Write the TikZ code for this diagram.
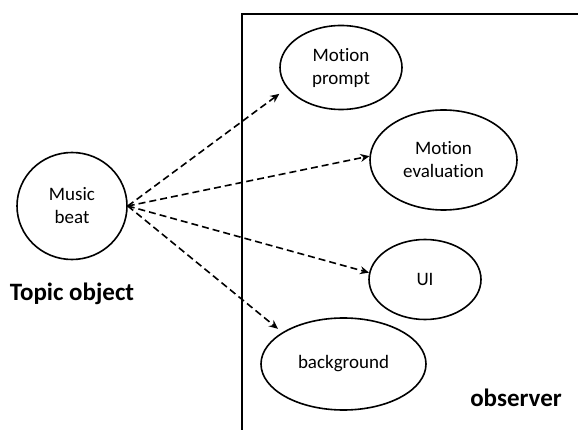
\documentclass[tikz,border=0pt]{standalone}
\usepackage{fontspec}
\setmainfont{Carlito}[Ligatures={NoCommon}]
\usetikzlibrary{arrows.meta,positioning,shapes.geometric}

\begin{document}
\begin{tikzpicture}[
    x=1pt, y=-1pt,
    actor/.style={
      ellipse, draw=black, line width=1.6pt, inner sep=0pt,
      align=center, font=\fontsize{19}{23}\selectfont
    },
    caption/.style={
      font=\fontsize{25}{30}\selectfont\bfseries
    },
    notify/.style={
      -{Stealth[length=9pt, width=8pt, inset=3pt]}, line width=1.6pt,
      dash pattern=on 7pt off 4pt
    }
  ]
  \useasboundingbox (0,0) rectangle (578,430);

  % --- subject on the left ---
  \node[actor, minimum width=110pt, minimum height=107pt] (beat) at (72,206) {Music\\beat};
  \node[caption, below=19pt of beat] (topic) {Topic object};
  \coordinate (hub) at (beat.east);

  % --- observer frame ---
  \draw[line width=1.8pt] (242,430) -- (242,14) -- (578,14);
  \node[caption] (observer) at (516,398) {observer};

  \node[actor, minimum width=122pt, minimum height=84pt] (prompt) at (341,67.5) {Motion\\prompt};
  \node[actor, minimum width=147pt, minimum height=100pt] (eval) at (443.5,160) {Motion\\evaluation};
  \node[actor, minimum width=112pt, minimum height=80pt] (ui) at (425,279.5) {UI};
  \node[actor, minimum width=165pt, minimum height=92pt] (bg) at (343.5,364) {background};

  % --- notifications ---
  \draw[notify] (hub) -- ([shift={(-9,4)}]prompt.203);
  \draw[notify] (hub) -- (eval.177);
  \draw[notify] (hub) -- (ui.173);
  \draw[notify] (hub) -- ([shift={(-5,-3)}]bg.152);
\end{tikzpicture}
\end{document}
